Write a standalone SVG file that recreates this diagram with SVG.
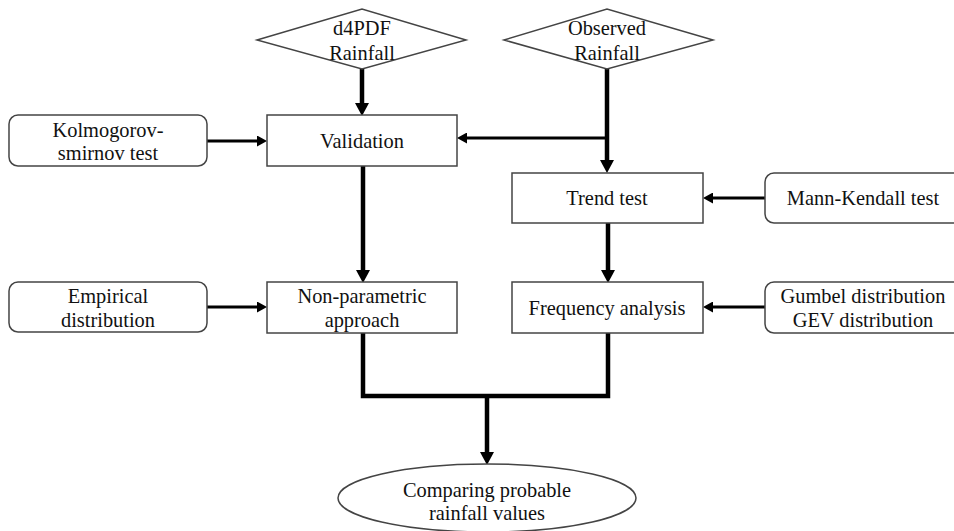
<svg xmlns="http://www.w3.org/2000/svg" width="954" height="531" viewBox="0 0 954 531">
  <style>
    .shape { fill: #ffffff; stroke: #444444; stroke-width: 1.5; }
    .txt { font-family: 'Liberation Serif', 'DejaVu Serif', serif; font-size: 20.4px; fill: #111111; text-anchor: middle; }
    .thick { fill: none; stroke: #000000; stroke-width: 4.5; }
    .thin { fill: none; stroke: #000000; stroke-width: 3; }
  </style>
  <defs>
    <marker id="ahBig" markerUnits="userSpaceOnUse" markerWidth="13" markerHeight="14" refX="6" refY="7" orient="auto">
      <path d="M0,0 L13,7 L0,14 z" fill="#000000"/>
    </marker>
    <marker id="ahSmall" markerUnits="userSpaceOnUse" markerWidth="10" markerHeight="11" refX="5" refY="5.5" orient="auto">
      <path d="M0,0 L10,5.5 L0,11 z" fill="#000000"/>
    </marker>
  </defs>
  <rect width="954" height="531" fill="#ffffff"/>

  <g id="connectors">
    <line class="thick" x1="362" y1="69" x2="362" y2="109" marker-end="url(#ahBig)"/>
    <line class="thick" x1="607" y1="69" x2="607" y2="166" marker-end="url(#ahBig)"/>
    <line class="thin" x1="607" y1="138" x2="462" y2="138" marker-end="url(#ahSmall)"/>
    <line class="thin" x1="207" y1="141" x2="262" y2="141" marker-end="url(#ahSmall)"/>
    <line class="thick" x1="363" y1="166" x2="363" y2="276" marker-end="url(#ahBig)"/>
    <line class="thin" x1="765" y1="198" x2="708" y2="198" marker-end="url(#ahSmall)"/>
    <line class="thick" x1="608" y1="223" x2="608" y2="276" marker-end="url(#ahBig)"/>
    <line class="thin" x1="207" y1="307" x2="262" y2="307" marker-end="url(#ahSmall)"/>
    <line class="thin" x1="765" y1="307" x2="708" y2="307" marker-end="url(#ahSmall)"/>
    <polyline class="thick" points="363,333 363,396 608,396 608,333" stroke-width="5"/>
    <line class="thick" x1="487" y1="396" x2="487" y2="458" marker-end="url(#ahBig)"/>
  </g>

  <g id="d4pdf">
    <polygon class="shape" points="257,40 362,9 466,40 362,69"/>
    <text class="txt" x="362" y="35">d4PDF</text>
    <text class="txt" x="362" y="60">Rainfall</text>
  </g>
  <g id="observed">
    <polygon class="shape" points="504,40 607,9 713,40 607,69"/>
    <text class="txt" x="607" y="35">Observed</text>
    <text class="txt" x="607" y="60">Rainfall</text>
  </g>
  <g id="kolmogorov">
    <rect class="shape" x="9" y="115" width="198" height="51" rx="9" ry="9"/>
    <text class="txt" x="108" y="137">Kolmogorov-</text>
    <text class="txt" x="108" y="160">smirnov test</text>
  </g>
  <g id="validation">
    <rect class="shape" x="267" y="115" width="190" height="51"/>
    <text class="txt" x="362" y="148">Validation</text>
  </g>
  <g id="trend">
    <rect class="shape" x="512" y="173" width="191" height="50"/>
    <text class="txt" x="607" y="205">Trend test</text>
  </g>
  <g id="mannkendall">
    <rect class="shape" x="765" y="173" width="200" height="50" rx="9" ry="9"/>
    <text class="txt" x="863" y="205">Mann-Kendall test</text>
  </g>
  <g id="empirical">
    <rect class="shape" x="9" y="282" width="198" height="50" rx="9" ry="9"/>
    <text class="txt" x="108" y="303">Empirical</text>
    <text class="txt" x="108" y="327">distribution</text>
  </g>
  <g id="nonparametric">
    <rect class="shape" x="267" y="282" width="190" height="51"/>
    <text class="txt" x="362" y="303">Non-parametric</text>
    <text class="txt" x="362" y="327">approach</text>
  </g>
  <g id="frequency">
    <rect class="shape" x="512" y="282" width="191" height="51"/>
    <text class="txt" x="607" y="315">Frequency analysis</text>
  </g>
  <g id="gumbel">
    <rect class="shape" x="765" y="282" width="200" height="51" rx="9" ry="9"/>
    <text class="txt" x="863" y="303">Gumbel distribution</text>
    <text class="txt" x="863" y="327">GEV distribution</text>
  </g>
  <g id="comparing">
    <ellipse class="shape" cx="487" cy="498" rx="149" ry="34"/>
    <text class="txt" x="487" y="497">Comparing probable</text>
    <text class="txt" x="487" y="520">rainfall values</text>
  </g>
</svg>
